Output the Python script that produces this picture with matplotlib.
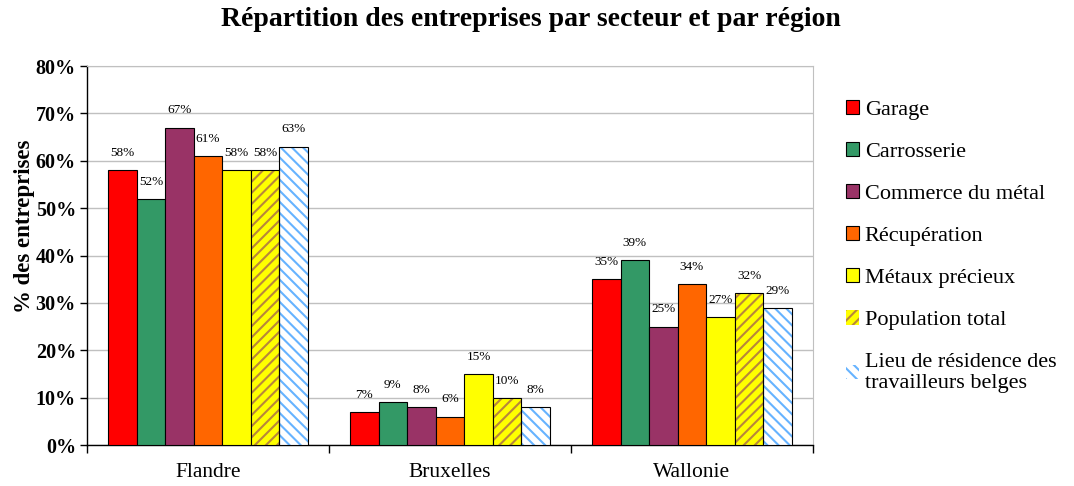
import matplotlib

matplotlib.use("Agg")
import matplotlib.pyplot as plt
import numpy as np
from matplotlib.patches import Patch
from matplotlib.ticker import FuncFormatter

plt.rcParams["font.family"] = ["Liberation Serif", "DejaVu Serif"]
plt.rcParams["hatch.linewidth"] = 1.5

REGIONS = ["Flandre", "Bruxelles", "Wallonie"]
SECTEURS = ["Garage", "Carrosserie", "Commerce du métal", "Récupération",
            "Métaux précieux", "Population total",
            "Lieu de résidence des\ntravailleurs belges"]
VALEURS = [
    [58, 7, 35],   # Garage
    [52, 9, 39],   # Carrosserie
    [67, 8, 25],   # Commerce du métal
    [61, 6, 34],   # Récupération
    [58, 15, 27],  # Métaux précieux
    [58, 10, 32],  # Population total
    [63, 8, 29],   # Lieu de résidence
]
COULEURS = ["#ff0000", "#339966", "#993366", "#ff6600", "#ffff00", "#ffff00", "#ffffff"]
HACHURES = [None, None, None, None, None, "///", "\\\\\\"]
COUL_HACH = [None, None, None, None, None, "#b8863b", "#66b3ff"]

fig = plt.figure(figsize=(10.74, 4.86), dpi=100)
ax = fig.add_axes([87 / 1074, 41 / 486, 726 / 1074, 379 / 486])

x = np.arange(len(REGIONS))
w = 0.118
for i, (nom, vals) in enumerate(zip(SECTEURS, VALEURS)):
    pos = x + (i - 3) * w
    v = np.array(vals) / 100
    if HACHURES[i]:
        ax.bar(pos, v, w, color=COULEURS[i], edgecolor=COUL_HACH[i],
               hatch=HACHURES[i], linewidth=0, zorder=3)
        ax.bar(pos, v, w, fill=False, edgecolor="black", linewidth=0.8, zorder=4)
    else:
        ax.bar(pos, v, w, color=COULEURS[i], edgecolor="black", linewidth=0.8, zorder=3)
    for px, val in zip(pos, vals):
        ax.annotate(f"{val}%", (px, val / 100), xytext=(0, 8), textcoords="offset points",
                    ha="center", va="bottom", fontsize=9.5)

ax.set_xlim(-0.5, 2.5)
ax.set_ylim(0, 0.8)
ax.set_yticks(np.arange(0, 0.81, 0.1))
ax.yaxis.set_major_formatter(FuncFormatter(lambda v, _: f"{v * 100:.0f}%"))
ax.tick_params(axis="y", labelsize=14.5, length=5, width=1, pad=3)
for t in ax.get_yticklabels():
    t.set_fontweight("bold")

ax.set_xticks([-0.5, 0.5, 1.5, 2.5])
ax.set_xticklabels([])
ax.set_xticks(x, minor=True)
ax.set_xticklabels(REGIONS, minor=True, fontsize=15.5)
ax.tick_params(axis="x", which="major", length=6, width=1)
ax.tick_params(axis="x", which="minor", length=0, pad=13)

ax.yaxis.grid(True, color="#c0c0c0", linewidth=1, zorder=0)
ax.set_axisbelow(True)
ax.spines["top"].set_color("#c0c0c0")
ax.spines["right"].set_color("#c0c0c0")
ax.spines["left"].set_linewidth(1)
ax.spines["bottom"].set_linewidth(1)

ax.set_ylabel("% des entreprises", fontsize=16.5, fontweight="bold")
ax.yaxis.set_label_coords(-0.072, 0.578)
fig.suptitle("Répartition des entreprises par secteur et par région",
             x=531 / 1074, y=0.985, fontsize=20, fontweight="bold")

handles = []
for i in range(len(SECTEURS)):
    if HACHURES[i]:
        handles.append(Patch(facecolor=COULEURS[i], edgecolor=COUL_HACH[i],
                             hatch=HACHURES[i], linewidth=0))
    else:
        handles.append(Patch(facecolor=COULEURS[i], edgecolor="black", linewidth=0.8))
fig.legend(handles, SECTEURS, loc="upper left", bbox_to_anchor=(837 / 1074, 395 / 486),
           frameon=False, fontsize=16, handlelength=0.6, handleheight=0.6,
           handletextpad=0.25, labelspacing=1.0, borderaxespad=0)

fig.savefig("out.png", dpi=100)
